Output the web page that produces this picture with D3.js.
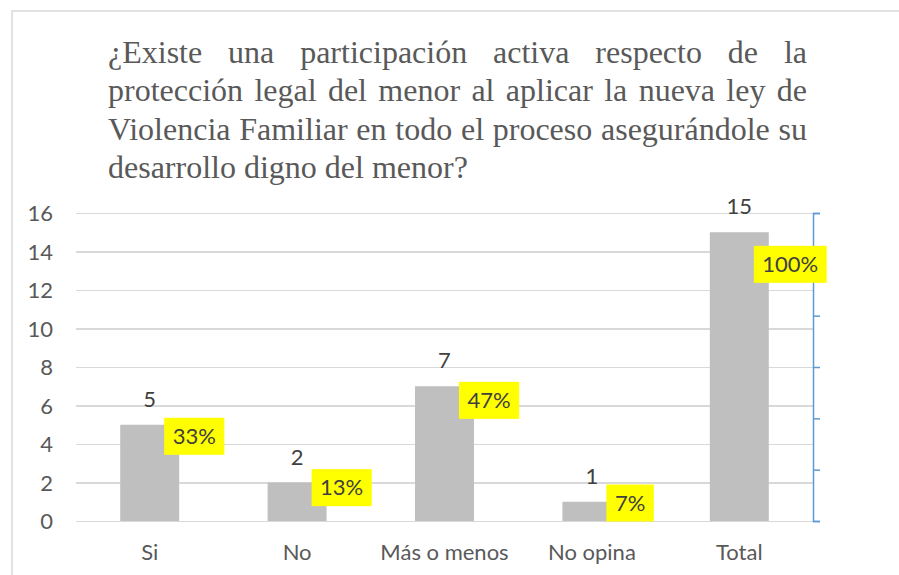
<!DOCTYPE html>
<meta charset="utf-8">
<style>
body { margin: 0; background: #fff; }
.axis text { font: 22px Lato, sans-serif; fill: #595959; }
.grid line { stroke: #d9d9d9; stroke-width: 1.5; shape-rendering: crispEdges; }
.grid path { stroke-width: 0; }
.title { font: 32px "Liberation Serif", "Times New Roman", serif; fill: #595959; }
.lbl { font: 22px Lato, sans-serif; fill: #404040; }
</style>
<body>
<script src="https://d3js.org/d3.v7.min.js"></script>
<script>

var categories = ["Si", "No", "Más o menos", "No opina", "Total"];
var counts = [5, 2, 7, 1, 15];
var percents = [0.33, 0.13, 0.47, 0.07, 1.00];
var yTicks = [0, 2, 4, 6, 8, 10, 12, 14, 16];
var pctTicks = [0, 0.2, 0.4, 0.6, 0.8, 1.0, 1.2];
var titleLines = [
    "¿Existe una participación activa respecto de la",
    "protección legal del menor al aplicar la nueva ley de",
    "Violencia Familiar en todo el proceso asegurándole su",
    "desarrollo digno del menor?"
];

var W = 899, H = 575;
var plot = {left: 76, right: 813, top: 213, bottom: 521};

var svg = d3.select("body").append("svg")
    .attr("width", W)
    .attr("height", H);

// chart frame (runs off the right and bottom edges)
svg.append("rect")
    .attr("x", 12).attr("y", 11)
    .attr("width", W + 20).attr("height", H + 20)
    .attr("fill", "none")
    .attr("stroke", "#d9d9d9")
    .attr("stroke-width", 1.5);

var x = d3.scaleBand()
    .domain(categories)
    .range([plot.left, plot.right])
    .paddingInner(0.6)
    .paddingOuter(0.3);

var y = d3.scaleLinear()
    .domain([0, 16])
    .range([plot.bottom, plot.top]);

var y2 = d3.scaleLinear()
    .domain([0, 1.2])
    .range([plot.bottom, plot.top]);

// gridlines
svg.append("g")
    .attr("class", "grid")
    .attr("transform", "translate(" + plot.left + ",0)")
    .call(d3.axisLeft(y).tickValues(yTicks)
        .tickSize(-(plot.right - plot.left))
        .tickFormat(""));

// left tick labels
var yAxis = svg.append("g")
    .attr("class", "axis")
    .attr("transform", "translate(" + plot.left + ",0)")
    .call(d3.axisLeft(y).tickValues(yTicks).tickSize(0).tickPadding(23));
yAxis.select(".domain").remove();
yAxis.selectAll("text").attr("dy", "0.35em");

// bars
svg.selectAll(".bar")
    .data(categories)
    .enter().append("rect")
    .attr("class", "bar")
    .attr("x", d => x(d))
    .attr("width", x.bandwidth())
    .attr("y", (d, i) => y(counts[i]))
    .attr("height", (d, i) => y(0) - y(counts[i]))
    .attr("fill", "#bfbfbf");

// count labels
svg.selectAll(".cnt")
    .data(categories)
    .enter().append("text")
    .attr("class", "lbl")
    .attr("x", d => x(d) + x.bandwidth() / 2)
    .attr("y", (d, i) => y(counts[i]) - 18)
    .attr("text-anchor", "middle")
    .text((d, i) => counts[i]);

// category labels
var xAxis = svg.append("g")
    .attr("class", "axis")
    .attr("transform", "translate(0," + plot.bottom + ")")
    .call(d3.axisBottom(x).tickSize(0).tickPadding(23));
xAxis.select(".domain").remove();

// secondary axis (percent), labels hidden as in the original
var rAxis = svg.append("g")
    .attr("transform", "translate(" + plot.right + ",0)")
    .call(d3.axisRight(y2).tickValues(pctTicks).tickSizeInner(7).tickSizeOuter(7).tickFormat(""));
rAxis.selectAll("path, line").attr("stroke", "#5b9bd5").attr("stroke-width", 1.5);

// percentage labels on yellow boxes
var fmt = d3.format(".0%");
var pg = svg.selectAll(".pct")
    .data(categories)
    .enter().append("g")
    .attr("class", "pct");
pg.append("rect").attr("fill", "#ffff00");
pg.append("text")
    .attr("class", "lbl")
    .attr("dy", "0.35em")
    .text((d, i) => fmt(percents[i]));
pg.each(function(d, i) {
    var g = d3.select(this);
    var t = g.select("text");
    var w = t.node().getComputedTextLength();
    var bx = x(d) + x.bandwidth() / 2 + 14.5;
    var cy = y2(percents[i]);
    g.select("rect")
        .attr("x", bx).attr("y", cy - 18.5)
        .attr("width", w + 17).attr("height", 37);
    t.attr("x", bx + 8.5).attr("y", cy);
});

// title, justified between two edges except the last line
var tx0 = 108, tx1 = 807, tBase = 63, tStep = 38.3;
titleLines.forEach(function(line, li) {
    var words = line.split(" ");
    var g = svg.append("g");
    var widths = words.map(function(w) {
        var t = g.append("text").attr("class", "title").text(w);
        var len = t.node().getComputedTextLength();
        t.remove();
        return len;
    });
    var space = g.append("text").attr("class", "title").text("\u00a0");
    var sw = space.node().getComputedTextLength();
    space.remove();
    var last = li === titleLines.length - 1;
    var gap = last ? sw : (tx1 - tx0 - d3.sum(widths)) / (words.length - 1);
    var cx = tx0;
    words.forEach(function(w, k) {
        g.append("text")
            .attr("class", "title")
            .attr("x", cx)
            .attr("y", tBase + li * tStep)
            .text(w);
        cx += widths[k] + gap;
    });
});

</script>
</body>
